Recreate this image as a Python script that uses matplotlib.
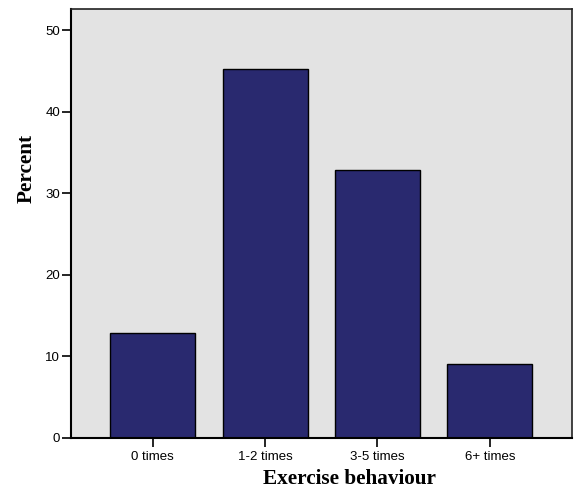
import matplotlib.pyplot as plt
import numpy as np

# Exercise behaviour frequencies (percent)
categories = ['0 times', '1-2 times', '3-5 times', '6+ times']
percent = [12.9, 45.2, 32.9, 9.0]
yticks = [0, 10, 20, 30, 40, 50]

fig = plt.figure(figsize=(5.74, 4.93), dpi=100)
ax = fig.add_axes([0.1237, 0.1122, 0.8723, 0.8695])
ax.set_facecolor('#e3e3e3')

x = np.arange(len(categories))
ax.bar(x, percent, width=0.756, color='#29296f', edgecolor='black', linewidth=1.0)

ax.set_xlim(-0.727, 3.728)
ax.set_ylim(0, 52.6)
ax.set_xticks(x)
ax.set_xticklabels(categories, fontfamily='Liberation Sans', fontsize=9.5)
ax.set_yticks(yticks)
ax.set_yticklabels([str(v) for v in yticks], fontfamily='Liberation Sans', fontsize=9.5)
ax.tick_params(axis='x', length=6.5, width=1.2, pad=3, color='black')
ax.tick_params(axis='y', length=6.7, width=1.2, pad=1, color='black')

for side in ['left', 'bottom']:
    ax.spines[side].set_linewidth(1.5)
for side in ['top', 'right']:
    ax.spines[side].set_linewidth(1.2)
    ax.spines[side].set_color('#222222')

ax.set_xlabel('Exercise behaviour', fontfamily='Liberation Serif', fontweight='bold',
              fontsize=15.3)
ax.set_ylabel('Percent', fontfamily='Liberation Serif', fontweight='bold',
              fontsize=15.3)
# SPSS places the axis titles off-centre
ax.xaxis.set_label_coords(0.557, -0.073)
ax.yaxis.set_label_coords(-0.068, 0.629)

plt.savefig('out.png', dpi=100)
